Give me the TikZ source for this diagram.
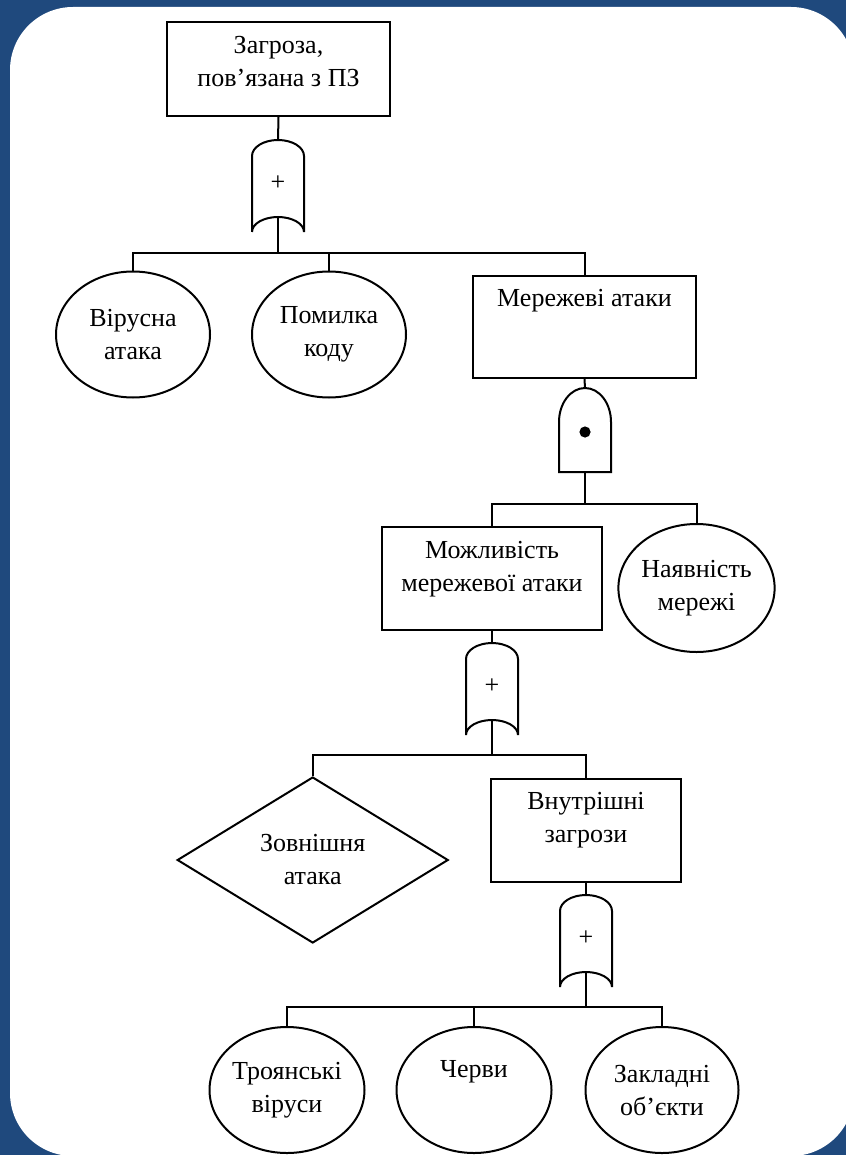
\documentclass[tikz,border=0pt]{standalone}
\usepackage{fontspec}
\setmainfont{Liberation Serif}
\usetikzlibrary{shapes.geometric}
\definecolor{slideblue}{RGB}{31,73,125}

% gate outlines drawn round a named gate node
\newcommand{\orgateshape}[1]{%
  \draw ([yshift=-7.5pt]#1.south west) -- ([yshift=-8pt]#1.north west)
    arc[start angle=180, end angle=0, x radius=13pt, y radius=8pt]
    -- ([yshift=-7.5pt]#1.south east)
    arc[start angle=0, end angle=180, x radius=13pt, y radius=7.5pt];}
\newcommand{\andgateshape}[1]{%
  \draw (#1.south west) -- ([yshift=-17pt]#1.north west)
    arc[start angle=180, end angle=0, x radius=13pt, y radius=17pt]
    -- (#1.south east) -- cycle;}

\begin{document}
\begin{tikzpicture}[x=0.5pt, y=-0.5pt, line width=1pt,
    every node/.style={font=\fontsize{13}{16.5}\selectfont, align=center},
    event/.style={draw, rectangle, inner sep=0pt},
    basic/.style={draw, ellipse, inner sep=0pt, minimum width=77pt, minimum height=63pt},
    undev/.style={draw, diamond, inner sep=0pt, minimum width=135.5pt, minimum height=83pt},
    gate/.style={inner sep=0pt, outer sep=0pt, minimum width=26pt},
    orgate/.style={gate, minimum height=38.5pt, text height=12pt, text depth=0pt}]

% Slide background
\path[use as bounding box, clip] (0,0) rectangle (846,1155);
\fill[slideblue] (0,0) rectangle (846,1155);
\fill[white, rounded corners=31.5pt] (10,7) rectangle (854,1156);

% Level 1
\node[event, minimum width=111.5pt, text height=32.5pt, text depth=14.5pt] (threat) at (278.5,69) {Загроза,\\пов’язана з ПЗ};
\node[orgate] (or1) at (278,178.5) {+};
\orgateshape{or1}

% Level 2
\node[basic] (virus) at (133,334.5) {Вірусна\\атака};
\node[basic] (codeerr) at (329,334.5) {Помилка\\коду};
\node[event, minimum width=111.5pt, text height=15pt, text depth=36pt] (netatk) at (584.5,327) {Мережеві атаки};
\node[gate, minimum height=42pt] (and1) at (585,430) {};
\andgateshape{and1}
\fill ([yshift=-1pt]and1.center) circle[radius=2.8pt];

% Level 3
\node[event, minimum width=110pt, text height=32pt, text depth=19.5pt] (netposs) at (492,578.5) {Можливість\\мережевої атаки};
\node[basic, minimum width=76.5pt, minimum height=64pt] (netavail) at (696.5,588) {Наявність\\мережі};
\node[orgate] (or2) at (492,681.5) {+};
\orgateshape{or2}

% Level 4
\node[undev] (extatk) at (312.7,860) {Зовнішня\\атака};
\node[event, minimum width=95pt, text height=31.5pt, text depth=20pt] (inthreat) at (586,830.5) {Внутрішні\\загрози};
\node[orgate] (or3) at (586,933.5) {+};
\orgateshape{or3}

% Level 5
\node[basic, minimum width=77.5pt] (trojan) at (287,1090) {Троянські\\віруси};
\node[basic, minimum width=77.5pt] (worm) at (474,1090) {Черви\\\strut};
\node[basic, minimum width=76.5pt] (implant) at (662,1090) {Закладні\\об’єкти};

% Connectors
\coordinate (bus1) at (278,253);
\coordinate (bus2) at (585,504);
\coordinate (bus3) at (492,755);
\coordinate (bus4) at (586,1007);

\draw (threat.south) -- (or1.north);
\draw (or1.south) -- (bus1);
\foreach \n in {virus,codeerr,netatk} \draw (\n.north) |- (bus1);

\draw (netatk.south) -- (and1.north);
\draw (and1.south) -- (bus2);
\foreach \n in {netposs,netavail} \draw (\n.north) |- (bus2);

\draw (netposs.south) -- (or2.north);
\draw (or2.south) -- (bus3);
\foreach \n in {extatk,inthreat} \draw (\n.north) |- (bus3);

\draw (inthreat.south) -- (or3.north);
\draw (or3.south) -- (bus4);
\foreach \n in {trojan,worm,implant} \draw (\n.north) |- (bus4);

\end{tikzpicture}
\end{document}
